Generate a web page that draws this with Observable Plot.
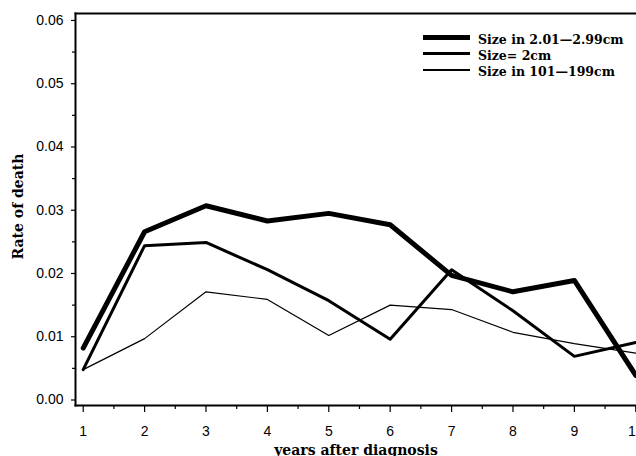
<!DOCTYPE html>
<html>
<head>
<meta charset="utf-8">
<script src="https://cdn.jsdelivr.net/npm/d3@7"></script>
<script src="https://cdn.jsdelivr.net/npm/@observablehq/plot@0.6"></script>
<style>
  html, body { margin: 0; padding: 0; background: white; }
  #wrap { position: relative; width: 636px; height: 456px; overflow: hidden; }
  .leg { position: absolute; font-family: "DejaVu Serif", serif; font-weight: bold; font-size: 12.5px; line-height: 16px; color: #000; white-space: nowrap; }
  .legline { position: absolute; background: #000; }
</style>
</head>
<body>
<div id="wrap"></div>
<script>
const years = [1, 2, 3, 4, 5, 6, 7, 8, 9, 10];
const size201to299 = [0.0082, 0.0266, 0.0307, 0.0283, 0.0295, 0.0277, 0.0197, 0.0171, 0.0189, 0.0039];
const size2 = [0.0048, 0.0244, 0.0249, 0.0206, 0.0157, 0.0096, 0.0206, 0.0141, 0.0069, 0.0091];
const size101to199 = [0.0048, 0.0097, 0.0171, 0.0159, 0.0102, 0.0150, 0.0143, 0.0107, 0.0089, 0.0074];
const seriesNames = ["Size in 2.01\u20142.99cm", "Size= 2cm", "Size in 101\u2014199cm"];
const xTicks = years;
const xMinorTicks = [1.5, 2.5, 3.5, 4.5, 5.5, 6.5, 7.5, 8.5, 9.5];
const yTicks = [0, 0.01, 0.02, 0.03, 0.04, 0.05, 0.06];
const yMinorTicks = [0.005, 0.015, 0.025, 0.035, 0.045, 0.055];

const widths = [5, 3, 1.2];
const allSeries = [size201to299, size2, size101to199];
const rows = [];
allSeries.forEach((vals, i) => vals.forEach((v, j) => rows.push({series: seriesNames[i], year: years[j], rate: v, w: widths[i]})));

const chart = Plot.plot({
  width: 636,
  height: 456,
  marginLeft: 75,
  marginRight: 0,
  marginTop: 13,
  marginBottom: 51,
  style: { fontFamily: "Liberation Sans, sans-serif", fontSize: "14px", background: "white", color: "black" },
  x: { domain: [0.8746, 10.012] },
  y: { domain: [-0.00087, 0.0611] },
  marks: [
    Plot.frame({ anchor: "left", strokeWidth: 2 }),
    Plot.frame({ anchor: "top", strokeWidth: 2 }),
    Plot.frame({ anchor: "bottom", strokeWidth: 2 }),
    Plot.axisY({ ticks: yMinorTicks, tickSize: 3, tickFormat: () => "", label: null, strokeWidth: 1.2 }),
    Plot.axisY({ ticks: yTicks, tickSize: 4, tickPadding: 8, tickFormat: d3.format(".2f"), label: null, strokeWidth: 1.2, fontSize: 14 }),
    Plot.axisX({ ticks: xMinorTicks, tickSize: 4, tickFormat: () => "", label: null, strokeWidth: 1.2 }),
    Plot.axisX({ ticks: xTicks, tickSize: 7, tickPadding: 14, tickFormat: d3.format("d"), label: null, strokeWidth: 1.2, fontSize: 14 }),
    Plot.text(["years after diagnosis"], { frameAnchor: "bottom", dy: 40, lineAnchor: "top", fontFamily: "DejaVu Serif, serif", fontWeight: "bold", fontSize: 14 }),
    Plot.text(["Rate of death"], { frameAnchor: "left", textAnchor: "middle", dx: -57, dy: -3, rotate: -90, fontFamily: "DejaVu Serif, serif", fontWeight: "bold", fontSize: 14 }),
    Plot.line(rows.filter(d => d.series === seriesNames[2]), { x: "year", y: "rate", stroke: "black", strokeWidth: widths[2], clip: true }),
    Plot.line(rows.filter(d => d.series === seriesNames[1]), { x: "year", y: "rate", stroke: "black", strokeWidth: widths[1], clip: true }),
    Plot.line(rows.filter(d => d.series === seriesNames[0]), { x: "year", y: "rate", stroke: "black", strokeWidth: widths[0], clip: true })
  ]
});

const wrap = document.getElementById("wrap");
wrap.appendChild(chart);

// legend
const legLineY = [37, 53, 70];
const legTextY = [40, 56, 72];
seriesNames.forEach((name, i) => {
  const ln = document.createElement("div");
  ln.className = "legline";
  ln.style.left = "423px";
  ln.style.width = "47px";
  ln.style.height = widths[i] + "px";
  ln.style.top = (legLineY[i] - widths[i] / 2) + "px";
  wrap.appendChild(ln);
  const tx = document.createElement("div");
  tx.className = "leg";
  tx.style.left = "478px";
  tx.style.top = (legTextY[i] - 8) + "px";
  tx.textContent = name;
  wrap.appendChild(tx);
});
</script>
</body>
</html>
